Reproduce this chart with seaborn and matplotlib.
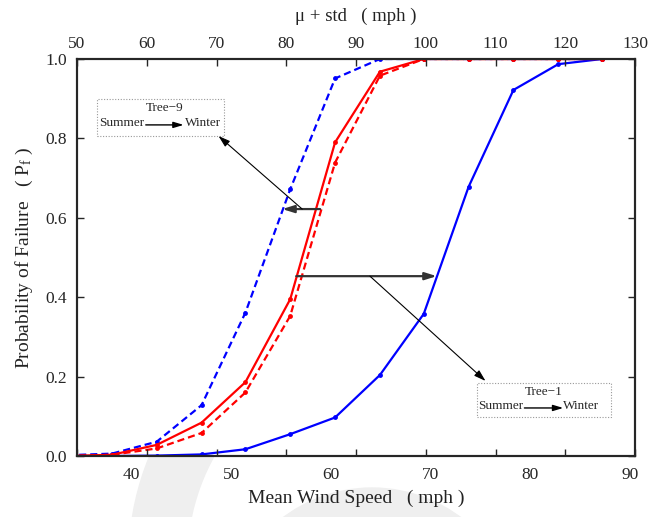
import matplotlib
matplotlib.use("Agg")
import matplotlib.pyplot as plt
import numpy as np
import pandas as pd
import seaborn as sns
from matplotlib.patches import Wedge, Circle, Rectangle
from matplotlib.transforms import IdentityTransform

# ---------------- data ----------------
wind_mph = [33.6, 38.0, 42.5, 47.0, 51.4, 55.9, 60.4, 64.9, 69.3, 73.8, 78.3, 82.8, 87.2]
tree1_summer = [0.000, 0.003, 0.028, 0.084, 0.186, 0.395, 0.790, 0.968, 1.0, 1.0, 1.0, 1.0, 1.0]
tree1_winter = [0.000, 0.000, 0.001, 0.004, 0.017, 0.055, 0.097, 0.204, 0.358, 0.678, 0.922, 0.987, 1.0]
tree9_summer = [0.000, 0.003, 0.019, 0.058, 0.160, 0.353, 0.739, 0.958, 1.0, 1.0, 1.0, 1.0, 1.0]
tree9_winter = [0.002, 0.006, 0.036, 0.128, 0.361, 0.672, 0.951, 1.0, 1.0, 1.0, 1.0, 1.0, 1.0]

series_names = ["Tree-1 winter", "Tree-9 winter", "Tree-1 summer", "Tree-9 summer"]
series_values = [tree1_winter, tree9_winter, tree1_summer, tree9_summer]

bottom_ticks = [40, 50, 60, 70, 80, 90]
top_ticks = [50, 60, 70, 80, 90, 100, 110, 120, 130]
y_ticks = [0.0, 0.2, 0.4, 0.6, 0.8, 1.0]

df = pd.DataFrame({
    "speed": wind_mph * len(series_names),
    "pf": sum(series_values, []),
    "series": sum([[n] * len(wind_mph) for n in series_names], []),
})

# ---------------- style ----------------
sns.set_style("ticks")
plt.rcParams["font.family"] = ["Liberation Serif", "DejaVu Serif"]
plt.rcParams["mathtext.fontset"] = "custom"
plt.rcParams["mathtext.rm"] = "Liberation Serif"
plt.rcParams["mathtext.it"] = "Liberation Serif:italic"

fig = plt.figure(figsize=(6.66, 5.17), dpi=100)
fig.patch.set_facecolor("white")

# faint watermark shapes (behind the axes)
wm = "#efefef"
fig.add_artist(Wedge((400, 517 - 560), 271, 120, 200, width=58, color=wm,
                     transform=IdentityTransform(), zorder=-5))
fig.add_artist(Circle((372, 517 - 636), 148, color=wm,
                      transform=IdentityTransform(), zorder=-5))

ax = fig.add_axes([77 / 666, 61 / 517, 558 / 666, 397 / 517])
ax.set_facecolor("white")

palette = {"Tree-1 winter": "#0000ff", "Tree-9 winter": "#0000ff",
           "Tree-1 summer": "#ff0000", "Tree-9 summer": "#ff0000"}
dashes = {"Tree-1 winter": "", "Tree-9 winter": (3.2, 1.8),
          "Tree-1 summer": "", "Tree-9 summer": (3.2, 1.8)}
markers = {n: "o" for n in series_names}

sns.lineplot(data=df, x="speed", y="pf", hue="series", style="series",
             hue_order=series_names, style_order=series_names,
             palette=palette, dashes=dashes, markers=markers,
             markersize=3.5, markeredgewidth=0, linewidth=1.6,
             legend=False, ax=ax, clip_on=True)

ax.set_xlim(34.5, 90.5)
ax.set_ylim(0, 1)
ax.set_xticks(bottom_ticks)
ax.set_xticklabels([str(t) for t in bottom_ticks])
ax.set_yticks(y_ticks)
ax.set_yticklabels([f"{t:.1f}" for t in y_ticks])
ax.tick_params(axis="x", bottom=True, length=0, pad=8, labelsize=12.5)
ax.tick_params(axis="y", direction="in", left=True, right=True, length=5,
               width=1.0, pad=7, labelsize=12.5)
for s in ax.spines.values():
    s.set_visible(True)
    s.set_linewidth(1.5)
    s.set_color("black")

ax.set_xlabel("Mean Wind Speed   ( mph )", fontsize=14, labelpad=5, color="#222222")
ax.set_ylabel("Probability of Failure   ( P$_\\mathrm{f}$ )", fontsize=14,
              labelpad=8, color="#222222")

# top axis (mu + std)
ax2 = ax.twiny()
ax2.set_xlim(50, 130)
ax2.set_xticks(top_ticks)
ax2.set_xticklabels([str(t) for t in top_ticks])
ax2.tick_params(axis="x", direction="in", top=True, bottom=True, labeltop=True,
                labelbottom=False, length=5, width=1.0, pad=5, labelsize=12.5)
for s in ax2.spines.values():
    s.set_linewidth(1.5)
ax2.set_xlabel("\u03bc + std   ( mph )", fontsize=13.5, labelpad=11, color="#222222")

# ---------------- annotations ----------------
big_arrow = dict(arrowstyle="-|>,head_length=0.7,head_width=0.22", color="#333333",
                 lw=1.6, shrinkA=0, shrinkB=0)
thin_arrow = dict(arrowstyle="-|>,head_length=0.7,head_width=0.22", color="black",
                  lw=0.8, shrinkA=0, shrinkB=0)
small_arrow = dict(arrowstyle="-|>,head_length=0.6,head_width=0.18", color="black",
                   lw=1.0, shrinkA=0, shrinkB=0)

# Tree-9
ax.annotate("", xy=(55.1, 0.622), xytext=(58.9, 0.622), arrowprops=big_arrow)
ax.annotate("", xy=(48.7, 0.806), xytext=(57.1, 0.622), arrowprops=thin_arrow)
ax.add_patch(Rectangle((36.5, 0.806), 49.3 - 36.5, 0.899 - 0.806, fill=False,
                       ec="#999999", lw=0.8, ls=(0, (1, 1.5))))
ax.text(43.3, 0.877, "Tree\u22129", ha="center", va="center", fontsize=9.5)
ax.text(39.0, 0.839, "Summer", ha="center", va="center", fontsize=9.5)
ax.text(47.2, 0.839, "Winter", ha="center", va="center", fontsize=9.5)
ax.annotate("", xy=(45.2, 0.834), xytext=(41.4, 0.834), arrowprops=small_arrow)

# Tree-1
ax.annotate("", xy=(70.6, 0.453), xytext=(56.5, 0.453), arrowprops=big_arrow)
ax.annotate("", xy=(75.5, 0.189), xytext=(63.9, 0.453), arrowprops=thin_arrow)
ax.add_patch(Rectangle((74.6, 0.098), 88.1 - 74.6, 0.184 - 0.098, fill=False,
                       ec="#999999", lw=0.8, ls=(0, (1, 1.5))))
ax.text(81.3, 0.161, "Tree\u22121", ha="center", va="center", fontsize=9.5)
ax.text(77.0, 0.126, "Summer", ha="center", va="center", fontsize=9.5)
ax.text(85.1, 0.126, "Winter", ha="center", va="center", fontsize=9.5)
ax.annotate("", xy=(83.3, 0.121), xytext=(79.4, 0.121), arrowprops=small_arrow)

fig.savefig("out.png", dpi=100, facecolor="white")
